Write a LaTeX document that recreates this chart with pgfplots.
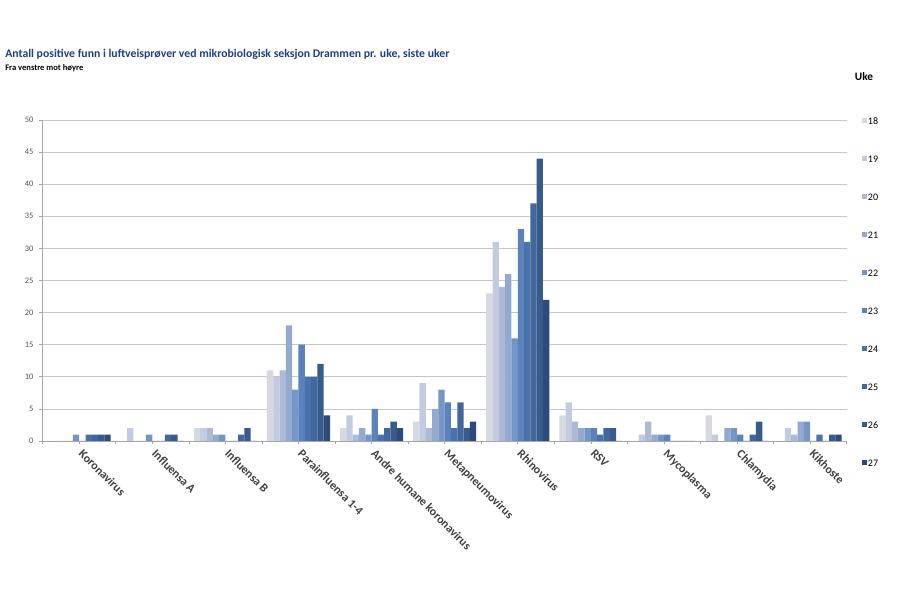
\documentclass[border=0pt]{standalone}
\usepackage{fontspec}
\setmainfont{Carlito}
\usepackage{pgfplots}
\pgfplotsset{compat=1.18}
\definecolor{c18}{HTML}{D6D9E2}
\definecolor{c19}{HTML}{C3CBE0}
\definecolor{c20}{HTML}{AEBAD5}
\definecolor{c21}{HTML}{93A9D0}
\definecolor{c22}{HTML}{7695C7}
\definecolor{c23}{HTML}{5A82BD}
\definecolor{c24}{HTML}{4A73AE}
\definecolor{c25}{HTML}{41679D}
\definecolor{c26}{HTML}{385B8D}
\definecolor{c27}{HTML}{2D4A78}
\definecolor{titleblue}{HTML}{203F86}
\definecolor{labgray}{HTML}{404040}
\begin{document}
\begin{tikzpicture}
\path[use as bounding box] (0,0) rectangle (675pt,450pt);
\node[anchor=base west, inner sep=0pt, text=titleblue, font=\bfseries\fontsize{8.8}{10}\selectfont] at (3.75pt,406.5pt) {Antall positive funn i luftveisprøver ved mikrobiologisk seksjon Drammen pr. uke, siste uker};
\node[anchor=base west, inner sep=0pt, text=black, font=\bfseries\fontsize{6.4}{7.5}\selectfont] at (3.75pt,397pt) {Fra venstre mot høyre};
\node[anchor=base west, inner sep=0pt, text=black, font=\bfseries\fontsize{8.5}{9}\selectfont] at (641pt,389.5pt) {Uke};
\begin{axis}[
  at={(32pt,119.25pt)}, anchor=south west, scale only axis,
  width=603pt, height=240.75pt,
  ybar=0pt, bar width=4.73pt,
  xmin=-0.5, xmax=10.5, ymin=0, ymax=50,
  xtick={0,1,...,10},
  xticklabels={Koronavirus, Influensa A, Influensa B, Parainfluensa 1-4, Andre humane koronavirus, Metapneumovirus, Rhinovirus, RSV, Mycoplasma, Chlamydia, Kikhoste},
  minor xtick={-0.5,0.5,...,10.5},
  ytick={0,5,...,50},
  axis x line*=bottom, axis y line*=left,
  axis line style={draw=gray!70, line width=0.6pt, -},
  ymajorgrids, grid style={draw=gray!45, line width=0.6pt},
  tick align=outside, major tick length=2.5pt, minor tick length=2.5pt,
  tick style={draw=gray!70, line width=0.5pt},
  /pgf/number format/assume math mode=true,
  yticklabel style={font=\fontsize{6.3}{7}\selectfont, text=labgray!90, xshift=-1pt},
  xticklabel style={font=\bfseries\fontsize{9}{10}\selectfont, text=labgray, xshift=3.7pt, yshift=-3pt, rotate=-45, anchor=north west, inner sep=0pt},
  legend style={at={(1,1)}, anchor=north west, xshift=11.25pt, yshift=2.8pt, draw=none, fill=none, inner sep=0pt,
    font=\fontsize{7.5}{8}\selectfont, row sep=21.9pt, nodes={inner sep=0.7pt, text height=5.2pt, text depth=0pt, text=black}},
  legend cell align=left,
  legend image code/.code={\fill[#1,draw=none] (0.5pt,-1.9pt) rectangle (4.3pt,1.9pt);},
]
\addplot[fill=c18, draw=none] coordinates {(0,0) (1,0) (2,2) (3,11) (4,2) (5,3) (6,23) (7,4) (8,0) (9,4) (10,0)};
\addplot[fill=c19, draw=none] coordinates {(0,0) (1,2) (2,2) (3,10) (4,4) (5,9) (6,31) (7,6) (8,1) (9,1) (10,2)};
\addplot[fill=c20, draw=none] coordinates {(0,0) (1,0) (2,2) (3,11) (4,1) (5,2) (6,24) (7,3) (8,3) (9,0) (10,1)};
\addplot[fill=c21, draw=none] coordinates {(0,0) (1,0) (2,1) (3,18) (4,2) (5,5) (6,26) (7,2) (8,1) (9,2) (10,3)};
\addplot[fill=c22, draw=none] coordinates {(0,1) (1,1) (2,1) (3,8) (4,1) (5,8) (6,16) (7,2) (8,1) (9,2) (10,3)};
\addplot[fill=c23, draw=none] coordinates {(0,0) (1,0) (2,0) (3,15) (4,5) (5,6) (6,33) (7,2) (8,1) (9,1) (10,0)};
\addplot[fill=c24, draw=none] coordinates {(0,1) (1,0) (2,0) (3,10) (4,1) (5,2) (6,31) (7,1) (8,0) (9,0) (10,1)};
\addplot[fill=c25, draw=none] coordinates {(0,1) (1,1) (2,1) (3,10) (4,2) (5,6) (6,37) (7,2) (8,0) (9,1) (10,0)};
\addplot[fill=c26, draw=none] coordinates {(0,1) (1,1) (2,2) (3,12) (4,3) (5,2) (6,44) (7,2) (8,0) (9,3) (10,1)};
\addplot[fill=c27, draw=none] coordinates {(0,1) (1,0) (2,0) (3,4) (4,2) (5,3) (6,22) (7,0) (8,0) (9,0) (10,1)};
\legend{18,19,20,21,22,23,24,25,26,27}
\end{axis}
\end{tikzpicture}
\end{document}
